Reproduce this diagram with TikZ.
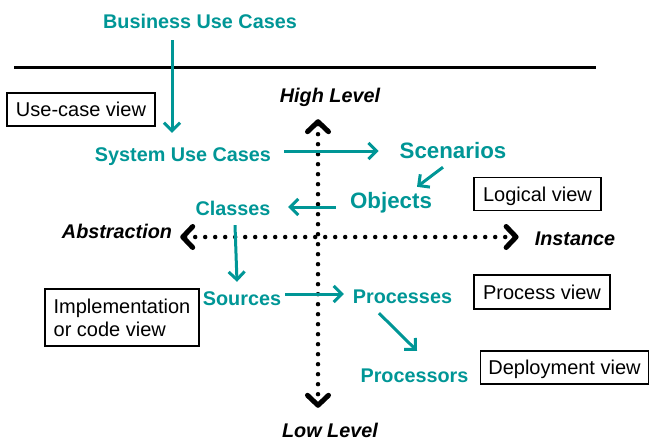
\documentclass[tikz,border=0pt]{standalone}
\usepackage{fontspec}
\setmainfont{Liberation Sans}
\usetikzlibrary{arrows.meta}
\definecolor{teal1}{RGB}{0,150,150}
\begin{document}
\begin{tikzpicture}[x=1pt,y=-1pt,
  lbl/.style={inner sep=0pt,anchor=base,text=teal1,font=\fontsize{19.8}{23}\selectfont\bfseries,text height=15pt,text depth=4pt},
  biglbl/.style={lbl,font=\fontsize{22.3}{26}\selectfont\bfseries},
  axlbl/.style={inner sep=0pt,anchor=base,font=\fontsize{19.8}{23}\selectfont\bfseries\itshape,text height=15pt,text depth=4pt},
  viewbox/.style={draw,line width=1.3pt,inner sep=0pt,font=\fontsize{20}{23}\selectfont,text height=14pt,text depth=0pt},
  tarrow/.style={draw=teal1,line width=3pt,-{Straight Barb[length=8pt,width=16pt]}},
  axis/.style={line width=4.5pt,line cap=round,dash pattern=on 0pt off 10pt,
    {Straight Barb[round,length=10pt,width=21pt,line width=5pt]}-{Straight Barb[round,length=10pt,width=21pt,line width=5pt]}}]
\useasboundingbox (0,0) rectangle (649,442);

% teal labels
\node[lbl] (bu) at (200,28) {Business Use Cases};
\node[lbl] (sys) at (183,161) {System Use Cases};
\node[biglbl] (sc) at (453,158) {Scenarios};
\node[biglbl] (ob) at (391,208) {Objects};
\node[lbl] (cl) at (233,215) {Classes};
\node[lbl] (so) at (242,305) {Sources};
\node[lbl] (pr) at (402.5,303) {Processes};
\node[lbl] (ps) at (414.5,382) {Processors};

% axis labels
\node[axlbl] (high) at (330,102) {High Level};
\node[axlbl] (low) at (330,437) {Low Level};
\node[axlbl] (abs) at (117,238) {Abstraction};
\node[axlbl] (ins) at (575,245) {Instance};

% view boxes
\node[viewbox,minimum width=148pt,minimum height=33pt] (ucv) at (81,109.5) {Use-case view};
\node[viewbox,minimum width=127pt,minimum height=33pt] (lgv) at (537.5,194) {Logical view};
\node[viewbox,minimum width=136pt,minimum height=34pt] (prv) at (542,292) {Process view};
\node[viewbox,minimum width=168pt,minimum height=33pt] (dpv) at (564.5,367.5) {Deployment view};
\node[viewbox,minimum width=154pt,minimum height=57pt,align=left,text height=,text depth=,font=\fontsize{20}{23}\selectfont] (imv) at (122,317.5) {Implementation\\or code view};

% separator line
\draw[line width=3pt] (14,67) -- (596,67);

% axes
\draw[axis] ([xshift=-12pt,yshift=-13pt]high.south) -- ([xshift=-12pt,yshift=14pt]low.north);
\draw[axis] ([xshift=8pt,yshift=-4.5pt]abs.east) -- ([xshift=-16pt,yshift=2.5pt]ins.west);

% teal arrows
\draw[tarrow] ([xshift=-28pt,yshift=-8pt]bu.south) -- ([xshift=-11pt,yshift=13pt]sys.north);
\draw[tarrow] ([xshift=13pt,yshift=4.5pt]sys.east) -- ([xshift=-21pt,yshift=1.5pt]sc.west);
\draw[tarrow] ([xshift=-10pt,yshift=-5pt]sc.south) -- ([xshift=26pt,yshift=6pt]ob.north);
\draw[tarrow] ([xshift=-14pt,yshift=-4.5pt]ob.west) -- ([xshift=17.5pt,yshift=2.5pt]cl.east);
\draw[tarrow] ([xshift=2pt,yshift=-6pt]cl.south) -- ([xshift=-5pt,yshift=8pt]so.north);
\draw[tarrow] ([xshift=4pt,yshift=5.5pt]so.east) -- ([xshift=-9pt,yshift=3.5pt]pr.west);
\draw[tarrow] ([xshift=-23.5pt,yshift=-6pt]pr.south) -- ([xshift=2.5pt,yshift=16pt]ps.north);
\end{tikzpicture}
\end{document}
